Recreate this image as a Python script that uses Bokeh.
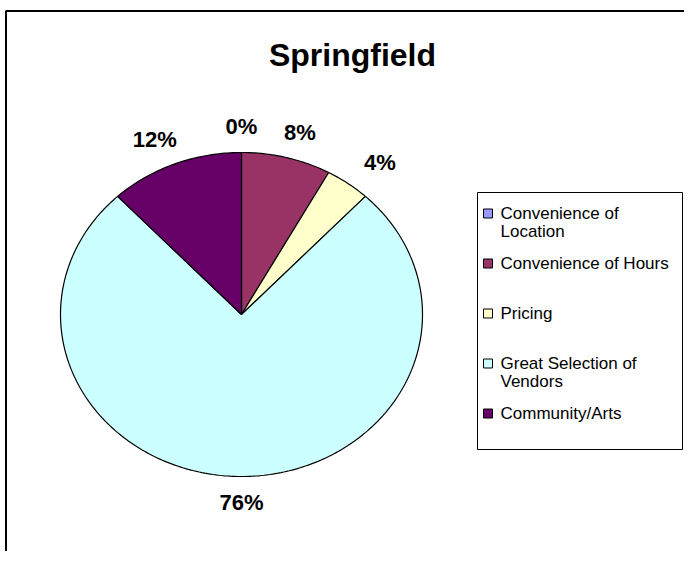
import textwrap
import numpy as np
from bokeh.plotting import figure
from bokeh.models import Range1d, Label
from bokeh.core.properties import value
from bokeh.embed import file_html
from bokeh.resources import INLINE

# ---- data ----
categories = ["Convenience of Location", "Convenience of Hours", "Pricing",
              "Great Selection of Vendors", "Community/Arts"]
percents = [0, 8, 4, 76, 12]
colors = ["#9999FF", "#993366", "#FFFFCC", "#CCFFFF", "#660066"]
title_text = "Springfield"

# ---- layout (figure pixels) ----
W, H = 684, 551
CX, CY = 241, 314          # pie centre
RX, RY = 181, 162          # pie radii (the original picture is stretched horizontally)
FONT = "Liberation Sans"


def dx(px):
    return (px - CX) / RX


def dy(py):
    return (CY - py) / RY


p = figure(width=W, height=H, output_backend="svg", toolbar_location=None,
           x_range=Range1d(dx(0), dx(W)), y_range=Range1d(dy(H), dy(0)),
           x_axis_location=None, y_axis_location=None, min_border=0)
p.grid.visible = False
p.outline_line_color = None
p.background_fill_color = "white"
p.border_fill_color = "white"

# ---- chart frame (right and bottom edges fall outside the picture, as in the original) ----
p.quad(left=dx(5.5), top=dy(10.5), right=dx(W + 20), bottom=dy(H + 20),
       fill_color=None, line_color="black", line_width=2)

# ---- pie slices (clockwise from 12 o'clock) ----
frac = np.array(percents, dtype=float) / sum(percents)
ends = np.cumsum(frac) * 2 * np.pi
starts = ends - frac * 2 * np.pi
xs, ys = [], []
for s, e in zip(starts, ends):
    t = np.linspace(s, e, max(2, int((e - s) / (2 * np.pi) * 400) + 2))
    xs.append([0.0] + list(np.sin(t)))
    ys.append([0.0] + list(np.cos(t)))
p.patches(xs=xs, ys=ys, fill_color=colors, line_color="black", line_width=1.2)

# ---- data labels ----
mids = (starts + ends) / 2
kx, ky = 1.3, 1.16
p.text(x=list(kx * np.sin(mids)), y=list(ky * np.cos(mids)),
       text=[f"{v}%" for v in percents], text_align="center", text_baseline="middle",
       text_font=value(FONT), text_font_style="bold", text_font_size="22px",
       text_color="black")

# ---- title ----
p.add_layout(Label(x=dx(352), y=dy(54), text=title_text, text_align="center",
                   text_baseline="middle", text_font=FONT, text_font_style="bold",
                   text_font_size="32px", text_color="black"))

# ---- legend (drawn by hand to reproduce Excel's wrapped, two-line slots) ----
box_l, box_r, box_t, box_b = 477, 682, 192, 449
p.quad(left=dx(box_l), right=dx(box_r), top=dy(box_t), bottom=dy(box_b),
       fill_color="white", line_color="black", line_width=1)
item_top, item_pitch, line_h = 213, 50, 18
sq = 9
sx0, tx0 = 483, 500
for i, (cat, col) in enumerate(zip(categories, colors)):
    y0 = item_top + i * item_pitch
    p.quad(left=dx(sx0), right=dx(sx0 + sq), top=dy(y0 - sq / 2), bottom=dy(y0 + sq / 2),
           fill_color=col, line_color="black", line_width=1)
    lines = textwrap.wrap(cat, width=20)
    p.text(x=[dx(tx0)] * len(lines), y=[dy(y0 + k * line_h) for k in range(len(lines))],
           text=lines, text_align="left", text_baseline="middle",
           text_font=value(FONT), text_font_size="17px", text_color="black")

open("out.html", "w").write(file_html(p, INLINE))
